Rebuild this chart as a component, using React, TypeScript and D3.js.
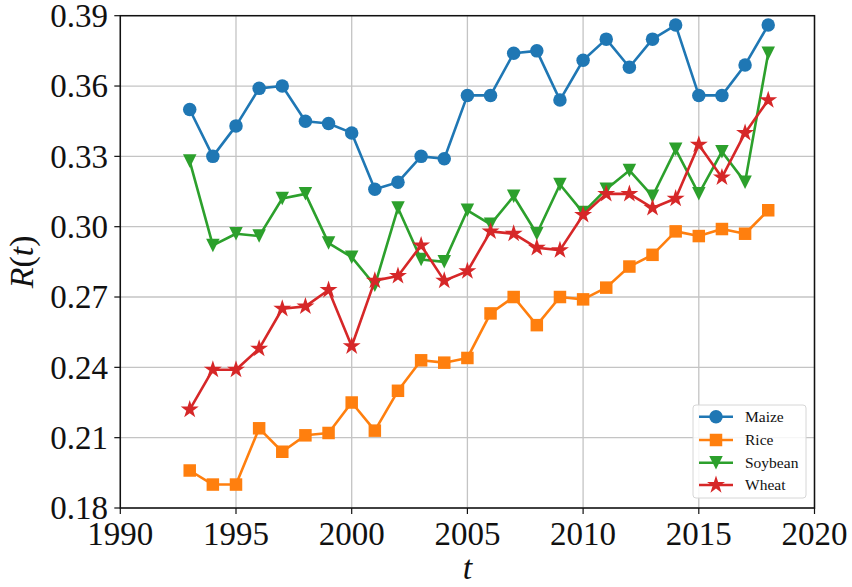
import React from "react";
import * as d3 from "d3";

const years = d3.range(1993, 2019);
const maize = [0.350, 0.330, 0.343, 0.359, 0.360, 0.345, 0.344, 0.340, 0.316, 0.319, 0.330, 0.329, 0.356, 0.356, 0.374, 0.375, 0.354, 0.371, 0.380, 0.368, 0.380, 0.386, 0.356, 0.356, 0.369, 0.386];
const rice = [0.196, 0.190, 0.190, 0.214, 0.204, 0.211, 0.212, 0.225, 0.213, 0.230, 0.243, 0.242, 0.244, 0.263, 0.270, 0.258, 0.270, 0.269, 0.274, 0.283, 0.288, 0.298, 0.296, 0.299, 0.297, 0.307];
const soybean = [0.328, 0.292, 0.297, 0.296, 0.312, 0.314, 0.293, 0.287, 0.275, 0.308, 0.286, 0.285, 0.307, 0.301, 0.313, 0.297, 0.318, 0.306, 0.316, 0.324, 0.313, 0.333, 0.314, 0.332, 0.319, 0.374];
const wheat = [0.222, 0.239, 0.239, 0.248, 0.265, 0.266, 0.273, 0.249, 0.277, 0.279, 0.292, 0.277, 0.281, 0.298, 0.297, 0.291, 0.290, 0.305, 0.314, 0.314, 0.308, 0.312, 0.335, 0.321, 0.340, 0.354];

const xTicks = [1990, 1995, 2000, 2005, 2010, 2015, 2020];
const yTicks = [0.18, 0.21, 0.24, 0.27, 0.30, 0.33, 0.36, 0.39];
const seriesNames = ["Maize", "Rice", "Soybean", "Wheat"];
const seriesColors = ["#1f77b4", "#ff7f0e", "#2ca02c", "#d62728"];
const seriesMarkers = ["circle", "square", "triangle", "star"];

const W = 852, H = 587;
const left = 120.3, right = 814.5, top = 15.7, bottom = 508;
const FONT = "Liberation Serif, DejaVu Serif, serif";
const tf = { fontFamily: FONT };

function markerPath(kind: string, size: number) {
  if (kind === "circle") return d3.symbol(d3.symbolCircle, size * size * Math.PI / 4)()!;
  if (kind === "square") return d3.symbol(d3.symbolSquare, size * size)()!;
  if (kind === "star") return d3.symbol(d3.symbolStar, size * size * 0.55)()!;
  const h = size * 0.5;
  return `M${-h},${-h}L${h},${-h}L0,${h}Z`;
}

const sizes: Record<string, number> = { circle: 13.5, square: 12.5, triangle: 13.5, star: 13.5 };

export default function App() {
  const x = d3.scaleLinear().domain([1990, 2020]).range([left, right]);
  const y = d3.scaleLinear().domain([0.18, 0.39]).range([bottom, top]);
  const data = [maize, rice, soybean, wheat];
  const line = d3.line<number>().x((_, i) => x(years[i])).y((d) => y(d));

  const legX = 693, legY = 405, legW = 113, legH = 93;
  const rowY = [416.7, 440, 462.7, 485];

  return (
    <svg width={W} height={H} style={{ position: "absolute", left: 0, top: 0, background: "#fff" }}>
      <rect x={0} y={0} width={W} height={H} fill="#fff" />
      {xTicks.map((t) => (
        <line key={"gx" + t} x1={x(t)} x2={x(t)} y1={top} y2={bottom} stroke="#c4c4c4" strokeWidth={1.3} />
      ))}
      {yTicks.map((t) => (
        <line key={"gy" + t} x1={left} x2={right} y1={y(t)} y2={y(t)} stroke="#c4c4c4" strokeWidth={1.3} />
      ))}
      {data.map((vals, si) => (
        <g key={seriesNames[si]}>
          <path d={line(vals)!} fill="none" stroke={seriesColors[si]} strokeWidth={2.6} strokeLinejoin="round" />
          {vals.map((v, i) => (
            <path key={i} d={markerPath(seriesMarkers[si], sizes[seriesMarkers[si]])}
              transform={`translate(${x(years[i])},${y(v)})`} fill={seriesColors[si]} />
          ))}
        </g>
      ))}
      <rect x={left} y={top} width={right - left} height={bottom - top} fill="none" stroke="#111" strokeWidth={1.5} />
      {xTicks.map((t) => (
        <g key={"xt" + t}>
          <line x1={x(t)} x2={x(t)} y1={bottom} y2={bottom + 6} stroke="#111" strokeWidth={1.2} />
          <text x={x(t)} y={545} textAnchor="middle" fontSize={33} fill="#111" style={tf}>{t}</text>
        </g>
      ))}
      {yTicks.map((t) => (
        <g key={"yt" + t}>
          <line x1={left - 6} x2={left} y1={y(t)} y2={y(t)} stroke="#111" strokeWidth={1.2} />
          <text x={108} y={y(t)} dy="0.34em" textAnchor="end" fontSize={33} fill="#111" style={tf}>{t.toFixed(2)}</text>
        </g>
      ))}
      <text x={(left + right) / 2} y={579} textAnchor="middle" fontSize={34} fontStyle="italic" fill="#111" style={tf}>t</text>
      <text transform={`translate(33,${(top + bottom) / 2}) rotate(-90)`} textAnchor="middle" fontSize={34} fill="#111" style={tf}>
        <tspan fontStyle="italic">R</tspan>
        <tspan>(</tspan>
        <tspan fontStyle="italic">t</tspan>
        <tspan>)</tspan>
      </text>
      <rect x={legX} y={legY} width={legW} height={legH} rx={3} fill="#fff" fillOpacity={0.85} stroke="#d6d6d6" strokeWidth={1} />
      {seriesNames.map((n, i) => (
        <g key={"leg" + n}>
          <line x1={699} x2={733} y1={rowY[i]} y2={rowY[i]} stroke={seriesColors[i]} strokeWidth={2.6} />
          <path d={markerPath(seriesMarkers[i], sizes[seriesMarkers[i]])} transform={`translate(716,${rowY[i]})`} fill={seriesColors[i]} />
          <text x={745} y={rowY[i]} dy="0.34em" fontSize={15.5} fill="#111" style={tf}>{n}</text>
        </g>
      ))}
    </svg>
  );
}
